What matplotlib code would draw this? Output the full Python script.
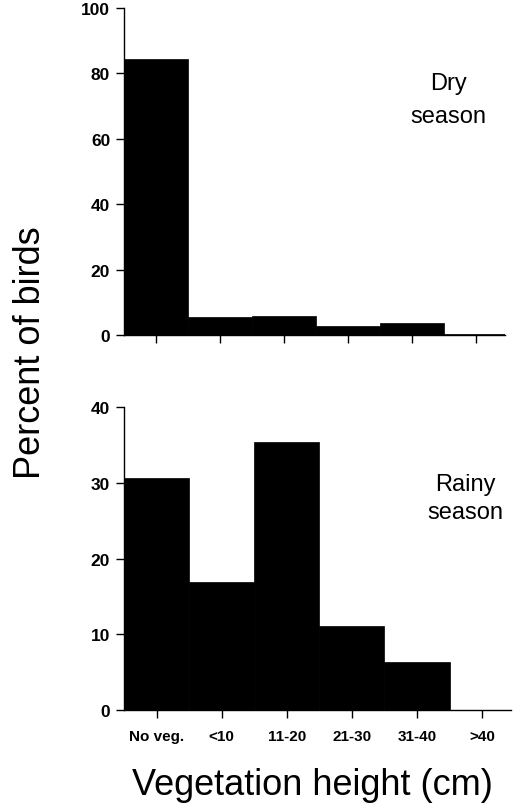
import numpy as np
import matplotlib.pyplot as plt

plt.rcParams['font.family'] = ['Liberation Sans', 'DejaVu Sans']

categories = ['No veg.', '<10', '11-20', '21-30', '31-40', '>40']
dry_pct = [84.4, 5.5, 6.0, 2.7, 3.8, 0.5]
rainy_pct = [30.7, 16.9, 35.4, 11.1, 6.3, 0.0]

fig = plt.figure(figsize=(5.2, 8.12), dpi=100)
ax1 = fig.add_axes([0.2385, 0.586, 0.733, 0.403])
ax2 = fig.add_axes([0.2385, 0.1244, 0.745, 0.373])

x = np.arange(len(categories))


def style(ax, vals, ymax, step):
    ax.bar(x, vals, width=1.0, color='black', edgecolor='black', linewidth=0.5)
    ax.set_xlim(-0.5, 5.45)
    ax.set_ylim(0, ymax)
    ax.set_yticks(np.arange(0, ymax + 1, step))
    ax.set_xticks(x)
    for s in ['top', 'right']:
        ax.spines[s].set_visible(False)
    for s in ['left', 'bottom']:
        ax.spines[s].set_linewidth(1.0)
    ax.tick_params(direction='out', length=6, width=1.0, labelsize=11, pad=4)
    ax.tick_params(axis='y', labelsize=12.5)
    for lab in ax.get_yticklabels():
        lab.set_fontweight('bold')


style(ax1, dry_pct, 100, 20)
style(ax2, rainy_pct, 40, 10)

ax1.set_xticklabels([])
ax2.set_xticklabels(categories, fontweight='bold')
ax2.tick_params(axis='x', pad=8)

ax1.text(0.85, 0.72, 'Dry\nseason', transform=ax1.transAxes, ha='center', va='center',
         fontsize=17, linespacing=1.6)
ax2.text(0.88, 0.70, 'Rainy\nseason', transform=ax2.transAxes, ha='center', va='center',
         fontsize=17, linespacing=1.3)

fig.text(0.058, 0.566, 'Percent of birds', rotation=90, ha='center', va='center', fontsize=26)
fig.text(0.6, 0.033, 'Vegetation height (cm)', ha='center', va='center', fontsize=26)

fig.savefig('out.png', dpi=100)
